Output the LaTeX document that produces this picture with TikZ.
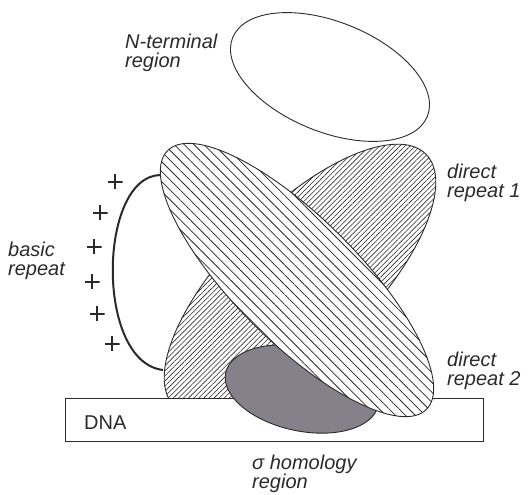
\documentclass[tikz,border=0pt]{standalone}
\usepackage{fontspec}
\setmainfont{Liberation Sans}
\usepackage{tikz}
\usetikzlibrary{shapes.geometric, patterns.meta}
\definecolor{lineblk}{HTML}{2A2A2A}
\definecolor{sigfill}{HTML}{84818A}

\begin{document}
\begin{tikzpicture}[x=1pt, y=1pt,
  lbl/.style={font=\fontsize{20}{18.5}\selectfont\itshape, align=left, anchor=west, inner sep=0pt, text=lineblk},
  blob/.style={ellipse, draw=lineblk, line width=0.9pt, inner sep=0pt},
  pl/.style={minimum size=15pt, inner sep=0pt, path picture={
    \draw[lineblk, line width=1.1pt] (path picture bounding box.north) -- (path picture bounding box.south)
      (path picture bounding box.west) -- (path picture bounding box.east);}}]
  \useasboundingbox (0,0) rectangle (530,495);
  \node[blob, minimum width=356pt, minimum height=144pt, rotate=45, fill=white,
        postaction={pattern={Lines[angle=45, distance=3.6pt, line width=0.6pt]}, pattern color=lineblk}] (rep) at (300,215) {};
  \node[blob, fill=white, minimum width=210pt, minimum height=110pt, rotate=-22] (nterm) at (330,418) {};
  \node[draw=lineblk, fill=white, line width=0.9pt, minimum width=418pt, minimum height=43pt, inner sep=0pt] (dna) at (274,75.5) {};
  \node[blob, fill=sigfill, minimum width=156pt, minimum height=84pt, rotate=-12] (sigma) at (302,106) {};
  \coordinate (brtop) at (160,320);
  \coordinate (brbot) at (163,125);
  \draw[line width=2pt, lineblk] (brtop) .. controls (98,318) and (95,133) .. (brbot);
  \node[blob, minimum width=366pt, minimum height=124pt, rotate=-45, fill=white,
        postaction={pattern={Lines[angle=-45, distance=7pt, line width=0.8pt]}, pattern color=lineblk}] (core) at (297,215) {};
  \foreach \x/\y [count=\i] in {115/313, 100/282, 94/248, 92/213, 97/181, 112/151}
    \node[pl] (plus\i) at (\x,\y) {};
  \node[lbl] (ntermlbl) at (125,442) {N-terminal\\region};
  \node[lbl] (rep1lbl) at (447,312) {direct\\repeat 1};
  \node[lbl] (basiclbl) at (8,234) {basic\\repeat};
  \node[lbl] (rep2lbl) at (447,124) {direct\\repeat 2};
  \node[lbl, font=\fontsize{20}{18.5}\selectfont] (dnalbl) at (84,72) {DNA};
  \node[lbl] (sigmalbl) at (252,21) {σ homology\\region};
\end{tikzpicture}
\end{document}
